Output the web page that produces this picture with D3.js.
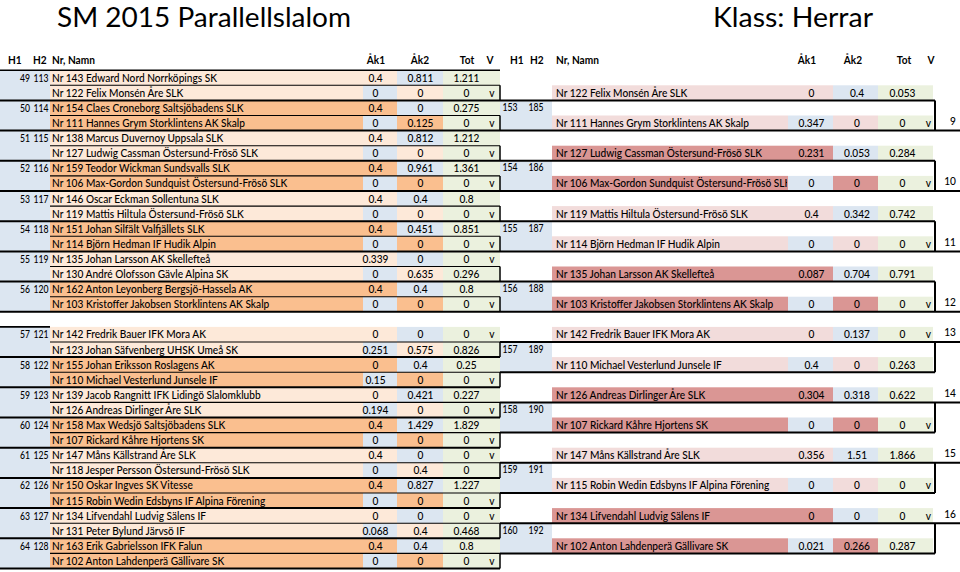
<!DOCTYPE html>
<html><head><meta charset="utf-8">
<script src="https://cdn.jsdelivr.net/npm/d3@7"></script>
<style>
body{margin:0;background:#fff}
svg{display:block}
text{font-family:Lato,"Open Sans",sans-serif;fill:#000}
</style>
</head><body>
<svg id="chart" width="960" height="572"></svg>
<script>
// ---------------- DATA ----------------
const titleText = "SM 2015 Parallellslalom";
const classText = "Klass: Herrar";
const headerCols = ["H1", "H2", "Nr, Namn", "Åk1", "Åk2", "Tot", "V"];

// left table: one entry per row (two rows per heat pair)
const leftH1 = [49, 50, 51, 52, 53, 54, 55, 56, 57, 58, 59, 60, 61, 62, 63, 64];
const leftH2 = [113, 114, 115, 116, 117, 118, 119, 120, 121, 122, 123, 124, 125, 126, 127, 128];
const leftNames = [
  "Nr 143 Edward Nord Norrköpings SK", "Nr 122 Felix Monsén Åre SLK",
  "Nr 154 Claes Croneborg Saltsjöbadens SLK", "Nr 111 Hannes Grym Storklintens AK Skalp",
  "Nr 138 Marcus Duvernoy Uppsala SLK", "Nr 127 Ludwig Cassman Östersund-Frösö SLK",
  "Nr 159 Teodor Wickman Sundsvalls SLK", "Nr 106 Max-Gordon Sundquist Östersund-Frösö SLK",
  "Nr 146 Oscar Eckman Sollentuna SLK", "Nr 119 Mattis Hiltula Östersund-Frösö SLK",
  "Nr 151 Johan Silfält Valfjällets SLK", "Nr 114 Björn Hedman IF Hudik Alpin",
  "Nr 135 Johan Larsson AK Skellefteå", "Nr 130 André Olofsson Gävle Alpina SK",
  "Nr 162 Anton Leyonberg Bergsjö-Hassela AK", "Nr 103 Kristoffer Jakobsen Storklintens AK Skalp",
  "Nr 142 Fredrik Bauer IFK Mora AK", "Nr 123 Johan Säfvenberg UHSK Umeå SK",
  "Nr 155 Johan Eriksson Roslagens AK", "Nr 110 Michael Vesterlund Junsele IF",
  "Nr 139 Jacob Rangnitt IFK Lidingö Slalomklubb", "Nr 126 Andreas Dirlinger Åre SLK",
  "Nr 158 Max Wedsjö Saltsjöbadens SLK", "Nr 107 Rickard Kåhre Hjortens SK",
  "Nr 147 Måns Källstrand Åre SLK", "Nr 118 Jesper Persson Östersund-Frösö SLK",
  "Nr 150 Oskar Ingves SK Vitesse", "Nr 115 Robin Wedin Edsbyns IF Alpina Förening",
  "Nr 134 Lifvendahl Ludvig Sälens IF", "Nr 131 Peter Bylund Järvsö IF",
  "Nr 163 Erik Gabrielsson IFK Falun", "Nr 102 Anton Lahdenperä Gällivare SK"
];
const leftAk1 = [0.4, 0, 0.4, 0, 0.4, 0, 0.4, 0, 0.4, 0, 0.4, 0, 0.339, 0, 0.4, 0,
                 0, 0.251, 0, 0.15, 0, 0.194, 0.4, 0, 0.4, 0, 0.4, 0, 0, 0.068, 0.4, 0];
const leftAk2 = [0.811, 0, 0, 0.125, 0.812, 0, 0.961, 0, 0.4, 0, 0.451, 0, 0, 0.635, 0.4, 0,
                 0, 0.575, 0.4, 0, 0.421, 0, 1.429, 0, 0, 0.4, 0.827, 0, 0, 0.4, 0.4, 0];
const leftTot = [1.211, 0, 0.275, 0, 1.212, 0, 1.361, 0, 0.8, 0, 0.851, 0, 0, 0.296, 0.8, 0,
                 0, 0.826, 0.25, 0, 0.227, 0, 1.829, 0, 0, 0, 1.227, 0, 0, 0.468, 0.8, 0];
const leftV = ["", "v", "", "v", "", "v", "", "v", "", "v", "", "v", "v", "", "", "v",
               "v", "", "", "v", "", "v", "", "v", "v", "", "", "v", "v", "", "", "v"];

// right table: heats 9-16
const heatNo = [9, 10, 11, 12, 13, 14, 15, 16];
const heatH1 = [153, 154, 155, 156, 157, 158, 159, 160];
const heatH2 = [185, 186, 187, 188, 189, 190, 191, 192];
// sheet rows used by each heat (top racer row, heat-number row, bottom racer row, label row)
const heatTopRow = [1, 5, 9, 13, 16, 20, 24, 28];
const heatNumRow = [2, 6, 10, 14, 17, 21, 25, 29];
const heatBotRow = [3, 7, 11, 15, 18, 22, 26, 30];
const heatLabelRow = [3, 7, 11, 15, 16, 20, 24, 28];
const rightNamesTop = [
  "Nr 122 Felix Monsén Åre SLK", "Nr 127 Ludwig Cassman Östersund-Frösö SLK",
  "Nr 119 Mattis Hiltula Östersund-Frösö SLK", "Nr 135 Johan Larsson AK Skellefteå",
  "Nr 142 Fredrik Bauer IFK Mora AK", "Nr 126 Andreas Dirlinger Åre SLK",
  "Nr 147 Måns Källstrand Åre SLK", "Nr 134 Lifvendahl Ludvig Sälens IF"
];
const rightAk1Top = [0, 0.231, 0.4, 0.087, 0, 0.304, 0.356, 0];
const rightAk2Top = [0.4, 0.053, 0.342, 0.704, 0.137, 0.318, 1.51, 0];
const rightTotTop = [0.053, 0.284, 0.742, 0.791, 0, 0.622, 1.866, 0];
const rightVTop = ["", "", "", "", "v", "", "", "v"];
const rightNamesBot = [
  "Nr 111 Hannes Grym Storklintens AK Skalp", "Nr 106 Max-Gordon Sundquist Östersund-Frösö SLK",
  "Nr 114 Björn Hedman IF Hudik Alpin", "Nr 103 Kristoffer Jakobsen Storklintens AK Skalp",
  "Nr 110 Michael Vesterlund Junsele IF", "Nr 107 Rickard Kåhre Hjortens SK",
  "Nr 115 Robin Wedin Edsbyns IF Alpina Förening", "Nr 102 Anton Lahdenperä Gällivare SK"
];
const rightAk1Bot = [0.347, 0, 0, 0, 0.4, 0, 0, 0.021];
const rightAk2Bot = [0, 0, 0, 0, 0, 0, 0, 0.266];
const rightTotBot = [0, 0, 0, 0, 0.263, 0, 0, 0.287];
const rightVBot = ["v", "v", "v", "v", "", "v", "v", ""];

// ---------------- LAYOUT / STYLE ----------------
const COL = {
  blue: "#dce6f1", peach: "#fde9d9", orange: "#fabf8f",
  pink: "#f2dcdb", red: "#da9694", green: "#ebf1de"
};
const svg = d3.select("#chart");
const W = 960;
const BODYW = 500;

// sheet rows: 16 rows, one blank spacer, 16 rows
const slot = r => r < 16 ? r : r + 1;
const y = d3.scaleBand().domain(d3.range(33)).range([70.2, 568.5]).paddingInner(0);
const rowTop = r => y(slot(r));
const rowBot = r => y(slot(r)) + y.bandwidth();
const rowMid = r => y(slot(r)) + y.bandwidth() / 2;

// column edges
const xL = d3.scaleOrdinal()
  .domain(["h1", "h2", "name", "ak1", "ak2", "tot", "v", "end"])
  .range([0, 33, 50, 363, 397, 443, 480, 500]);
const xR = d3.scaleOrdinal()
  .domain(["h1", "h2", "name", "ak1", "ak2", "tot", "v", "end"])
  .range([500, 526, 552, 788, 833, 878, 922, 933]);

// ---- font calibration: taller glyphs, condensed to spreadsheet widths ----
function measure(str, weight, size) {
  const t = svg.append("text").attr("font-size", size).attr("font-weight", weight).text(str);
  const w = t.node().getComputedTextLength();
  t.remove();
  return w;
}
const fs = 11.2;
const K = Math.min(1, 165 / measure("Nr 143 Edward Nord Norrköpings SK", BODYW, fs));
const tfs = 27;
const base = fs * 0.36;
const digitW = 5.0; // spreadsheet digit advance for heat numbers

function condense(sel, k) {
  sel.each(function() {
    const w = this.getComputedTextLength();
    if (w > 0) {
      this.setAttribute("textLength", (w * k).toFixed(2));
      this.setAttribute("lengthAdjust", "spacingAndGlyphs");
    }
  });
  return sel;
}

// ---------------- TITLE ----------------
svg.append("text").attr("x", 57).attr("y", 26.8).attr("font-size", tfs)
  .attr("textLength", 294).attr("lengthAdjust", "spacingAndGlyphs").text(titleText);
svg.append("text").attr("x", 713).attr("y", 26.8).attr("font-size", tfs)
  .attr("textLength", 160).attr("lengthAdjust", "spacingAndGlyphs").text(classText);

// ---------------- HEADER ----------------
const hy = 60 + base;
const hdrPos = [
  {x: 8, a: "start"}, {x: 33, a: "start"}, {x: 52, a: "start"},
  {x: 376, a: "middle"}, {x: 420, a: "middle"}, {x: 467, a: "middle"}, {x: 490, a: "middle"},
  {x: 510, a: "start"}, {x: 530, a: "start"}, {x: 556, a: "start"},
  {x: 807, a: "middle"}, {x: 853, a: "middle"}, {x: 904, a: "middle"}, {x: 931, a: "middle"}
];
condense(svg.append("g").selectAll("text").data(hdrPos.map((d, i) => ({...d, t: headerCols[i % 7]})))
  .join("text").attr("x", d => d.x).attr("y", hy).attr("text-anchor", d => d.a)
  .attr("font-size", fs).attr("font-weight", 700).text(d => d.t), K);

// ---------------- LEFT TABLE ----------------
const bg = svg.append("g");
const fg = svg.append("g").attr("font-weight", BODYW);
const lines = svg.append("g").attr("stroke", "#000").attr("fill", "none");

const leftRows = leftNames.map((n, i) => {
  const pair = Math.floor(i / 2), isA = i % 2 === 0;
  const pc = pair % 2 === 0 ? COL.peach : COL.orange;
  return {i, pair, isA, name: n, ak1: leftAk1[i], ak2: leftAk2[i], tot: leftTot[i], v: leftV[i],
    cName: pc, cAk1: isA ? pc : COL.blue, cAk2: isA ? COL.blue : pc};
});

bg.selectAll(".lh").data(leftH1).join("rect")
  .attr("x", xL("h1")).attr("width", xL("name") - xL("h1"))
  .attr("y", (d, p) => rowTop(2 * p)).attr("height", (d, p) => rowBot(2 * p + 1) - rowTop(2 * p))
  .attr("fill", COL.blue);

const cellDefs = [
  {k: "name", c: "cName", x0: "name", x1: "ak1"},
  {k: "ak1", c: "cAk1", x0: "ak1", x1: "ak2"},
  {k: "ak2", c: "cAk2", x0: "ak2", x1: "tot"}
];
cellDefs.forEach(cd => {
  bg.selectAll(".lc-" + cd.k).data(leftRows).join("rect")
    .attr("x", xL(cd.x0)).attr("width", xL(cd.x1) - xL(cd.x0))
    .attr("y", d => rowTop(d.i)).attr("height", d => rowBot(d.i) - rowTop(d.i) + 0.3)
    .attr("fill", d => d[cd.c]);
});
bg.selectAll(".lt").data(leftRows).join("rect")
  .attr("x", xL("tot")).attr("width", xL("end") - xL("tot"))
  .attr("y", d => rowTop(d.i)).attr("height", d => rowBot(d.i) - rowTop(d.i) + 0.3)
  .attr("fill", COL.green);

// heat number text with spreadsheet-like digit advance
function numText(sel, acc) {
  return sel.text(acc)
    .attr("textLength", d => String(acc(d)).length * digitW)
    .attr("lengthAdjust", "spacingAndGlyphs");
}
numText(fg.selectAll(".lh1").data(leftH1).join("text")
  .attr("x", 30).attr("y", (d, p) => rowMid(2 * p) + base).attr("text-anchor", "end")
  .attr("font-size", fs), d => d);
numText(fg.selectAll(".lh2").data(leftH2).join("text")
  .attr("x", 48.5).attr("y", (d, p) => rowMid(2 * p) + base).attr("text-anchor", "end")
  .attr("font-size", fs), d => d);
condense(fg.selectAll(".ln").data(leftRows).join("text")
  .attr("x", 52).attr("y", d => rowMid(d.i) + base).attr("font-size", fs).text(d => d.name), K);
[["ak1", 375.5], ["ak2", 420.5], ["tot", 466.5]].forEach(([k, cx]) => {
  condense(fg.selectAll(".lv-" + k).data(leftRows).join("text")
    .attr("x", cx).attr("y", d => rowMid(d.i) + base).attr("text-anchor", "middle")
    .attr("font-size", fs).text(d => d[k]), K);
});
condense(fg.selectAll(".lvv").data(leftRows.filter(d => d.v)).join("text")
  .attr("x", 492).attr("y", d => rowMid(d.i) + base).attr("text-anchor", "middle")
  .attr("font-size", fs).text(d => d.v), K);

// left borders
lines.append("line").attr("x1", 0).attr("x2", xL("end")).attr("y1", rowTop(0)).attr("y2", rowTop(0)).attr("stroke-width", 1.6);
lines.append("line").attr("x1", 0).attr("x2", xL("name")).attr("y1", rowTop(16)).attr("y2", rowTop(16)).attr("stroke-width", 1.6);
leftH1.forEach((d, p) => {
  const a = 2 * p, b = 2 * p + 1;
  lines.append("line").attr("x1", xL("name")).attr("x2", xL("end"))
    .attr("y1", rowBot(a)).attr("y2", rowBot(a)).attr("stroke-width", 1.1);
  lines.append("line").attr("x1", 0).attr("x2", xL("end"))
    .attr("y1", rowBot(b)).attr("y2", rowBot(b)).attr("stroke-width", 2);
  lines.append("line").attr("x1", xL("end")).attr("x2", xL("end"))
    .attr("y1", rowTop(b)).attr("y2", rowBot(b)).attr("stroke-width", 1.5);
});

// ---------------- RIGHT TABLE ----------------
const heats = heatNo.map((n, k) => ({
  k, n, h1: heatH1[k], h2: heatH2[k],
  top: heatTopRow[k], num: heatNumRow[k], bot: heatBotRow[k], lab: heatLabelRow[k],
  color: k % 2 === 0 ? COL.pink : COL.red
}));
const rightRows = [];
heats.forEach(h => {
  rightRows.push({r: h.top, name: rightNamesTop[h.k], ak1: rightAk1Top[h.k], ak2: rightAk2Top[h.k],
    tot: rightTotTop[h.k], v: rightVTop[h.k], cName: h.color, cAk1: h.color, cAk2: COL.blue});
  rightRows.push({r: h.bot, name: rightNamesBot[h.k], ak1: rightAk1Bot[h.k], ak2: rightAk2Bot[h.k],
    tot: rightTotBot[h.k], v: rightVBot[h.k], cName: h.color, cAk1: COL.blue, cAk2: h.color});
});

bg.selectAll(".rh").data(heats).join("rect")
  .attr("x", xR("h1")).attr("width", xR("name") - xR("h1"))
  .attr("y", d => rowTop(d.num)).attr("height", d => rowBot(d.bot) - rowTop(d.num))
  .attr("fill", COL.blue);
cellDefs.forEach(cd => {
  bg.selectAll(".rc-" + cd.k).data(rightRows).join("rect")
    .attr("x", xR(cd.x0)).attr("width", xR(cd.x1) - xR(cd.x0))
    .attr("y", d => rowTop(d.r)).attr("height", d => rowBot(d.r) - rowTop(d.r))
    .attr("fill", d => d[cd.c]);
});
bg.selectAll(".rt").data(rightRows).join("rect")
  .attr("x", xR("tot")).attr("width", xR("end") - xR("tot"))
  .attr("y", d => rowTop(d.r)).attr("height", d => rowBot(d.r) - rowTop(d.r))
  .attr("fill", COL.green);

svg.append("defs").append("clipPath").attr("id", "rnameclip").append("rect")
  .attr("x", xR("name")).attr("y", 0).attr("width", xR("ak1") - xR("name") - 1).attr("height", 572);

condense(fg.append("g").attr("clip-path", "url(#rnameclip)")
  .selectAll("text").data(rightRows).join("text")
  .attr("x", 556).attr("y", d => rowMid(d.r) + base).attr("font-size", fs).text(d => d.name), K);
[["ak1", 811.5], ["ak2", 857], ["tot", 902.5]].forEach(([k, cx]) => {
  condense(fg.selectAll(".rv-" + k).data(rightRows).join("text")
    .attr("x", cx).attr("y", d => rowMid(d.r) + base).attr("text-anchor", "middle")
    .attr("font-size", fs).text(d => d[k]), K);
});
condense(fg.selectAll(".rvv").data(rightRows.filter(d => d.v)).join("text")
  .attr("x", 928.5).attr("y", d => rowMid(d.r) + base).attr("text-anchor", "middle")
  .attr("font-size", fs).text(d => d.v), K);
numText(fg.selectAll(".rh1").data(heats).join("text")
  .attr("x", 517.5).attr("y", d => rowMid(d.num) - 1 + base).attr("text-anchor", "end")
  .attr("font-size", fs), d => d.h1);
numText(fg.selectAll(".rh2").data(heats).join("text")
  .attr("x", 543.5).attr("y", d => rowMid(d.num) - 1 + base).attr("text-anchor", "end")
  .attr("font-size", fs), d => d.h2);
condense(fg.selectAll(".rlab").data(heats).join("text")
  .attr("x", 956).attr("y", d => rowMid(d.lab) - 2 + base).attr("text-anchor", "end")
  .attr("font-size", fs).text(d => d.n), K);

// right borders
heats.forEach(h => {
  const xe = xR("end") + 2;
  const labUnderTop = h.lab === h.top, labUnderBot = h.lab === h.bot;
  lines.append("line").attr("x1", xR("h1")).attr("x2", labUnderTop ? W : xe)
    .attr("y1", rowBot(h.top)).attr("y2", rowBot(h.top)).attr("stroke-width", 2);
  lines.append("line").attr("x1", xR("h1")).attr("x2", labUnderBot ? W : xe)
    .attr("y1", rowBot(h.bot)).attr("y2", rowBot(h.bot)).attr("stroke-width", 2);
  lines.append("line").attr("x1", xe).attr("x2", xe)
    .attr("y1", rowTop(h.num)).attr("y2", rowBot(h.bot)).attr("stroke-width", 2);
});
</script>
</body></html>
